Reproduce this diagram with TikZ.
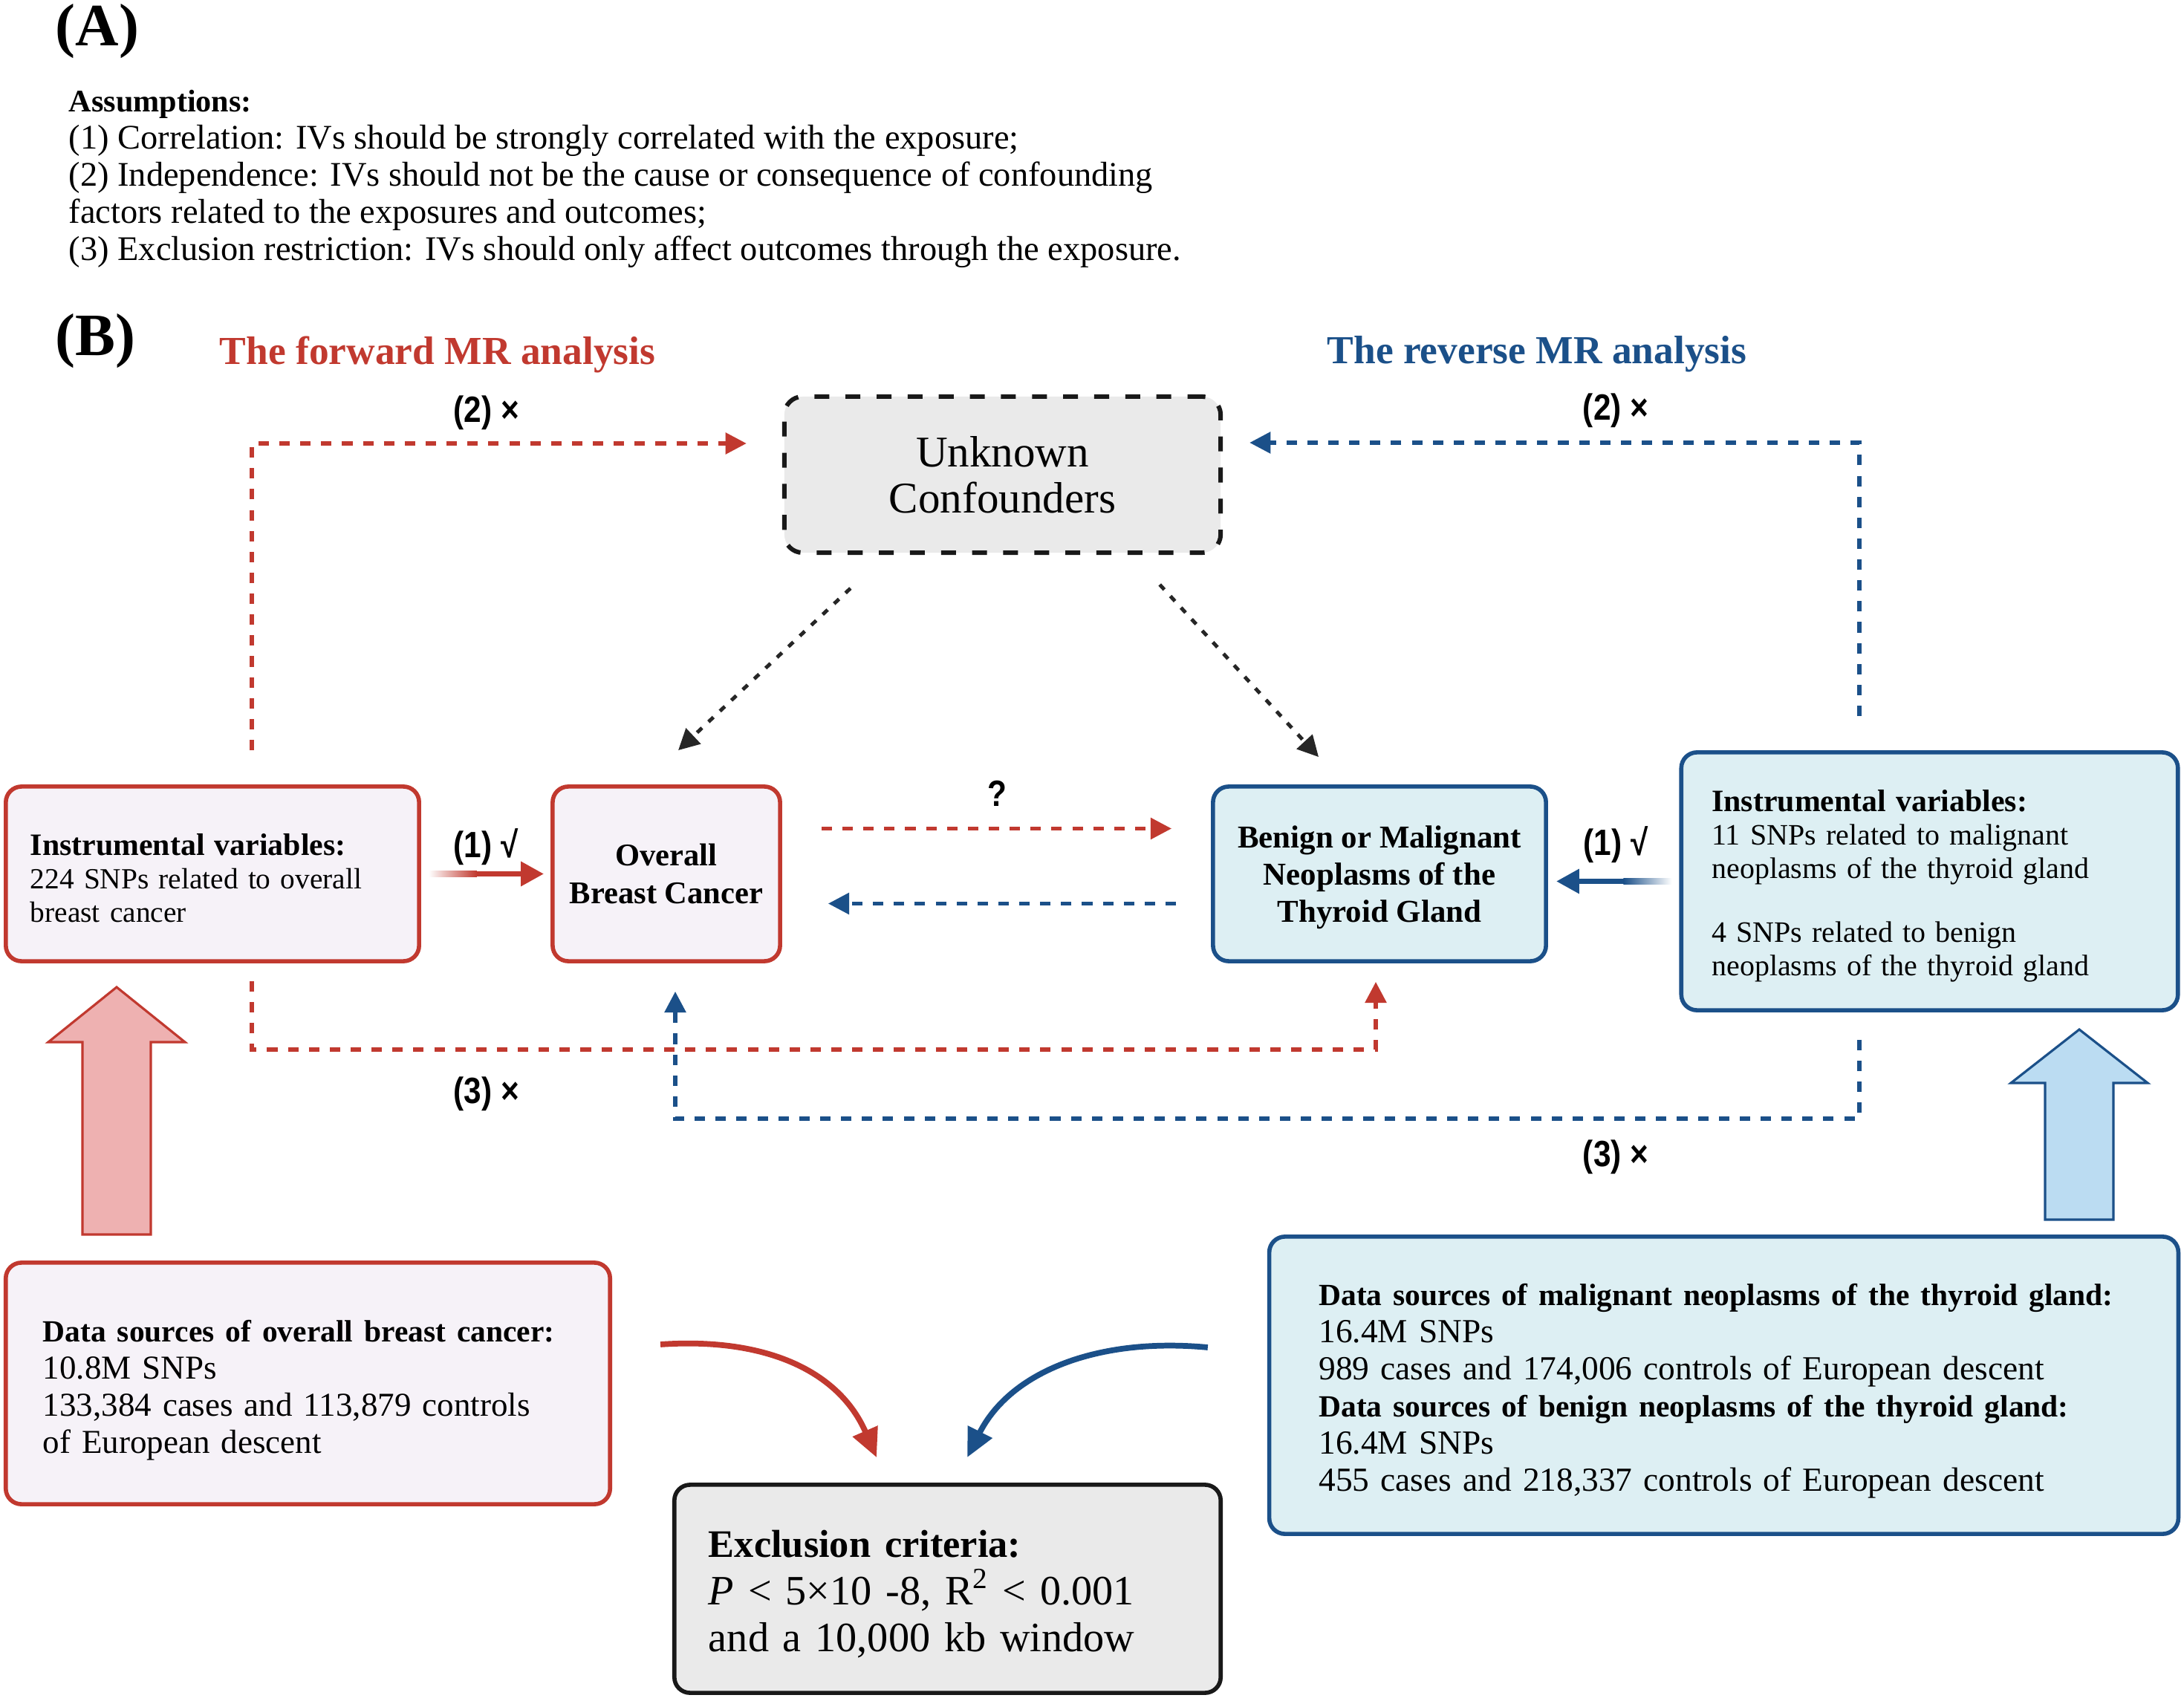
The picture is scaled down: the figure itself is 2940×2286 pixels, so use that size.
\documentclass[tikz,border=0pt]{standalone}
\usepackage{fontspec}
\setmainfont{Liberation Serif}
\newfontfamily\lblfont[FakeStretch=0.86]{Liberation Sans}
\usepackage{tikz}
\usetikzlibrary{arrows.meta,calc}
\definecolor{mrred}{HTML}{C1392F}
\definecolor{mrblue}{HTML}{1B5089}
\definecolor{lavfill}{HTML}{F6F2F8}
\definecolor{icefill}{HTML}{DDEFF3}
\definecolor{greyfill}{HTML}{EAEAEA}
\definecolor{pinkfill}{HTML}{EEB1B1}
\definecolor{skyfill}{HTML}{BBDCF2}
\tikzset{
  mrbox/.style = {rectangle, rounded corners=6pt, line width=1.6pt,
    inner ysep=0pt},
  box_r/.style = {mrbox, draw=mrred, fill=lavfill},% boite rouge
  box_b/.style = {mrbox, draw=mrblue, fill=icefill},% boite bleue
  box_g/.style = {mrbox, draw=black!90, fill=greyfill},% boite grise
  box_c/.style = {mrbox, draw=black!90, fill=greyfill, line width=1.7pt,
    rounded corners=7pt, dash pattern=on 5.7pt off 6.2pt},% confondeurs
  fwd_d/.style = {draw=mrred, line width=1.5pt, dash pattern=on 4pt off 4pt},% pointille rouge
  rev_d/.style = {draw=mrblue, line width=1.5pt, dash pattern=on 4pt off 4pt},% pointille bleu
  cnf_d/.style = {draw=black!85, line width=1.4pt, dash pattern=on 2.6pt off 3.4pt},% pointille noir
  lbl/.style = {font=\lblfont\bfseries\fontsize{14}{16}\selectfont, inner sep=0pt},
  big_r/.style = {draw=mrred, fill=pinkfill, line width=0.9pt},% grosse fleche rouge
  big_b/.style = {draw=mrblue, fill=skyfill, line width=0.9pt}% grosse fleche bleue
}

\begin{document}
\begin{tikzpicture}[x=0.01cm, y=-0.01cm, >={Triangle[length=8pt,width=8pt]}]
\useasboundingbox (0,0) rectangle (2940,2286);

% panel A
\node [anchor=west, inner sep=0pt, font=\bfseries\fontsize{23}{26}\selectfont] (pA) at (74,42) {(A)};
\node [anchor=west, inner sep=0pt, align=left, font=\fontsize{13.2}{14.2}\selectfont] (assum) at (92,241)
  {{\bfseries\fontsize{12}{14.2}\selectfont Assumptions:}\\
   (1) Correlation: IVs should be strongly correlated with the exposure;\\
   (2) Independence: IVs should not be the cause or consequence of confounding\\
   factors related to the exposures and outcomes;\\
   (3) Exclusion restriction: IVs should only affect outcomes through the exposure.};

% panel B
\node [anchor=west, inner sep=0pt, font=\bfseries\fontsize{23}{26}\selectfont] (pB) at (74,459) {(B)};
\node [inner sep=0pt, text=mrred, font=\bfseries\fontsize{15.2}{17}\selectfont] (fwdt) at (589,477) {The forward MR analysis};
\node [inner sep=0pt, text=mrblue, font=\bfseries\fontsize{15.2}{17}\selectfont] (revt) at (2069,477) {The reverse MR analysis};

\node [box_c, minimum width=5.87cm, minimum height=2.1cm, align=center, text depth=-2.5pt,
  font=\fontsize{16.8}{17.6}\selectfont] (conf) at (1349.5,639) {Unknown\\Confounders};

\node [box_r, minimum width=5.56cm, minimum height=2.35cm, text width=139.4pt, inner xsep=9.4pt,
  align=left, font=\fontsize{11.2}{12.8}\selectfont] (ivL) at (286,1176.5)
  {\rule{0pt}{11.3pt}{\bfseries\fontsize{11.9}{12.8}\selectfont Instrumental variables:}\\
   224 SNPs related to overall\\
   breast cancer};
\node [box_r, minimum width=3.06cm, minimum height=2.35cm, align=center, text depth=-2.5pt,
  font=\bfseries\fontsize{12.1}{14.4}\selectfont] (obc) at (897,1176.5) {Overall\\Breast Cancer};
\node [box_b, minimum width=4.48cm, minimum height=2.35cm, align=center, text depth=-2.5pt,
  font=\bfseries\fontsize{12.2}{14.2}\selectfont] (thy) at (1857,1176.5)
  {Benign or Malignant\\Neoplasms of the\\Thyroid Gland};
\node [box_b, minimum width=6.68cm, minimum height=3.47cm, text width=166.7pt, inner xsep=11.7pt,
  align=left, font=\fontsize{11.35}{12.8}\selectfont] (ivR) at (2597.5,1186.5)
  {\rule{0pt}{11.9pt}{\bfseries\fontsize{11.9}{12.8}\selectfont Instrumental variables:}\\
   11 SNPs related to malignant\\
   neoplasms of the thyroid gland\\[11.7pt]
   4 SNPs related to benign\\
   neoplasms of the thyroid gland};

\node [box_r, minimum width=8.13cm, minimum height=3.25cm, text width=202.9pt, inner xsep=14.2pt,
  align=left, font=\fontsize{12.8}{14.2}\selectfont] (dsL) at (414.5,1862.5)
  {\rule{0pt}{13.5pt}{\bfseries\fontsize{11.8}{14.2}\selectfont Data sources of overall breast cancer:}\\
   10.8M SNPs\\
   133,384 cases and 113,879 controls\\
   of European descent};
\node [box_b, minimum width=12.23cm, minimum height=4cm, text width=310pt, inner xsep=19pt,
  align=left, font=\fontsize{12.9}{14.2}\selectfont] (dsR) at (2320.5,1865)
  {\rule{0pt}{12.5pt}{\bfseries\fontsize{11.8}{14.2}\selectfont Data sources of malignant neoplasms of the thyroid gland:}\\
   16.4M SNPs\\
   989 cases and 174,006 controls of European descent\\
   {\bfseries\fontsize{11.8}{14.2}\selectfont Data sources of benign neoplasms of the thyroid gland:}\\
   16.4M SNPs\\
   455 cases and 218,337 controls of European descent};
\node [box_g, minimum width=7.35cm, minimum height=2.8cm, text width=182.9pt, inner xsep=13.1pt,
  align=left, font=\fontsize{16}{18}\selectfont] (excl) at (1275.5,2139)
  {\rule{0pt}{14.5pt}{\bfseries\fontsize{14.9}{18}\selectfont Exclusion criteria:}\\
   \textit{P} < 5×10 -8, R\textsuperscript{2} < 0.001\\
   and a 10,000 kb window};

% labels
\node [lbl] (l2f) at (655,556) {(2) ×};
\node [lbl] (l2r) at (2175,553) {(2) ×};
\node [lbl] (l1f) at (654,1140) {(1) √};
\node [lbl] (l1r) at (2175,1137) {(1) √};
\node [lbl] (l3f) at (655,1473) {(3) ×};
\node [lbl] (l3r) at (2175,1558) {(3) ×};
\node [lbl] (lq) at (1342,1068) {?};

% bends of the dashed paths
\coordinate (f2top) at (339,597);
\coordinate (r2top) at (2503,596);
\coordinate (f3a) at (339,1413);
\coordinate (f3b) at (1852,1413);
\coordinate (r3a) at (2503,1506);
\coordinate (r3b) at (909,1506);

\draw [fwd_d, ->, shorten <=0.46cm, shorten >=0.48cm] (ivL.north -| f2top) -- (f2top) -- (conf.west |- f2top);
\draw [rev_d, ->, shorten <=0.46cm, shorten >=0.36cm] (ivR.north -| r2top) -- (r2top) -- (conf.east |- r2top);
\draw [fwd_d, ->, shorten <=0.24cm, shorten >=0.25cm] (ivL.south -| f3a) -- (f3a) -- (f3b) -- (thy.south -| f3b);
\draw [rev_d, ->, shorten <=0.37cm, shorten >=0.38cm] (ivR.south -| r3a) -- (r3a) -- (r3b) -- (obc.south -| r3b);

\draw [cnf_d, ->] ($(conf.south west)+(92,45)$) -- ($(obc.north)+(16,-46)$);
\draw [cnf_d, ->] ($(conf.south east)+(-85,40)$) -- ($(thy.north west)+(145,-37)$);

\draw [fwd_d, ->] ($(obc.east)+(53,-61)$) -- ($(thy.west)+(-53,-61)$);
\draw [rev_d, ->] ($(thy.west)+(-47,40)$) -- ($(obc.east)+(62,40)$);

% (1) arrows, fading tails
\draw [draw=mrred, line width=2.1pt, -{Triangle[length=8.8pt,width=9pt]},
  shorten <=0.12cm, shorten >=0.09cm] (ivL.east) -- (obc.west);
\shade [left color=white, right color=mrred] ($(ivL.east)+(10,-3.7)$) rectangle ($(ivL.east)+(75,3.7)$);
\draw [draw=mrblue, line width=2.1pt, -{Triangle[length=8.8pt,width=9pt]},
  shorten <=0.11cm, shorten >=0.11cm] (ivR.west) -- (ivR.west -| thy.east);
\shade [left color=mrblue, right color=white] ($(ivR.west)+(-75,-3.7)$) rectangle ($(ivR.west)+(-10,3.7)$);

% curved arrows to the exclusion box
\draw [draw=mrred, line width=2.2pt, -{Triangle[length=11pt,width=10pt]}]
  ($(dsL.east)+(65,-52.5)$) .. controls ($(dsL.east)+(209,-62.5)$) and ($(excl.north)+(-145.5,-149)$)
  .. ($(excl.north)+(-95.5,-34)$);
\draw [draw=mrblue, line width=2.2pt, -{Triangle[length=11pt,width=10pt]}]
  ($(dsR.west)+(-80,-51)$) .. controls ($(dsR.west)+(-229,-65)$) and ($(excl.north)+(84.5,-149)$)
  .. ($(excl.north)+(26.5,-34)$);

% big arrows
\draw [big_r] (157,1329) -- (249,1403) -- (203,1403) -- (203,1662) -- (111,1662) -- (111,1403) -- (65,1403) -- cycle;
\draw [big_b] (2799,1386) -- (2891,1458) -- (2845,1458) -- (2845,1642) -- (2753,1642) -- (2753,1458) -- (2707,1458) -- cycle;
\end{tikzpicture}
\end{document}
